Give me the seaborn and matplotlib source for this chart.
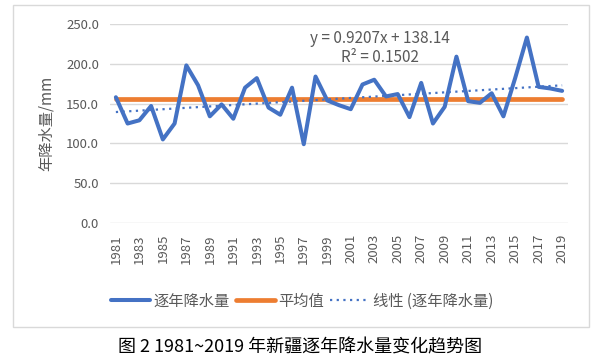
import numpy as np
import pandas as pd
import matplotlib
matplotlib.use("Agg")
import matplotlib.pyplot as plt
import seaborn as sns
from matplotlib.patches import Rectangle
from matplotlib.lines import Line2D

years = list(range(1981, 2020))
precip = [158, 125, 129, 147, 105, 125, 198, 173, 134, 149,
          131, 170, 182, 145, 136, 170, 99, 184, 154, 148,
          143, 174, 180, 159, 162, 133, 176, 125, 146, 209,
          153, 151, 163, 134, 182, 233, 171, 169, 166]
tick_labels = [str(y) for y in years[::2]]
eq_text = "y = 0.9207x + 138.14"
r2_text = "R² = 0.1502"

sns.set_theme(style="white")
plt.rcParams['font.family'] = ['Noto Sans CJK SC', 'DejaVu Sans']

BLUE = "#4472C4"
ORANGE = "#ED7D31"
GREY = "#595959"

df = pd.DataFrame({"idx": np.arange(len(years)), "year": years, "precip": precip})
df["mean"] = df["precip"].mean()
k, b = np.polyfit(df["idx"] + 1, df["precip"], 1)
df["trend"] = k * (df["idx"] + 1) + b

fig = plt.figure(figsize=(6.13, 3.64), dpi=100)
ax = fig.add_axes([110 / 613, 1 - 223 / 364, 458 / 613, 199 / 364])

sns.lineplot(data=df, x="idx", y="precip", ax=ax, color=BLUE, linewidth=2.9, zorder=3)
sns.lineplot(data=df, x="idx", y="mean", ax=ax, color=ORANGE, linewidth=3.4, zorder=2)
sns.lineplot(data=df, x="idx", y="trend", ax=ax, color=BLUE, linewidth=1.6,
             linestyle=(0, (1, 2)), zorder=4)

ax.set_xlim(-0.5, len(years) - 0.5)
ax.set_ylim(0, 250)
ax.set_yticks(np.arange(0, 251, 50))
ax.set_yticklabels([f"{v:.1f}" for v in np.arange(0, 251, 50)], color=GREY, fontsize=9.5)
ax.set_xticks(df["idx"][::2])
ax.set_xticklabels(tick_labels, rotation=90, color=GREY, fontsize=9.5)
ax.tick_params(axis="both", length=0, pad=8)
ax.grid(axis="y", color="#D9D9D9", linewidth=1)
ax.grid(axis="x", visible=False)
for s in ax.spines.values():
    s.set_visible(False)
ax.set_xlabel("")
ax.set_ylabel("年降水量/mm", color=GREY, fontsize=11, labelpad=8)

ax.text(22.5, 232, eq_text, ha="center", va="center", color=GREY, fontsize=11)
ax.text(22.5, 208, r2_text, ha="center", va="center", color=GREY, fontsize=11)

handles = [Line2D([], [], color=BLUE, linewidth=2.9),
           Line2D([], [], color=ORANGE, linewidth=3.4),
           Line2D([], [], color=BLUE, linewidth=1.6, linestyle=(0, (1, 2)))]
fig.legend(handles, ["逐年降水量", "平均值", "线性 (逐年降水量)"], loc="center",
           bbox_to_anchor=(302 / 613, 1 - 301 / 364), ncol=3, frameon=False,
           fontsize=11, handlelength=2.6, handletextpad=0.2, columnspacing=0.4,
           labelcolor=GREY)

fig.patches.append(Rectangle((12.5 / 613, 1 - 327 / 364), 576.5 / 613, 322 / 364,
                             transform=fig.transFigure, fill=False,
                             edgecolor="#D9D9D9", linewidth=1))

fig.text(300 / 613, 1 - 347 / 364, "图 2 1981~2019 年新疆逐年降水量变化趋势图",
         ha="center", va="center", color="black", fontsize=13)

fig.savefig("out.png", dpi=100)
